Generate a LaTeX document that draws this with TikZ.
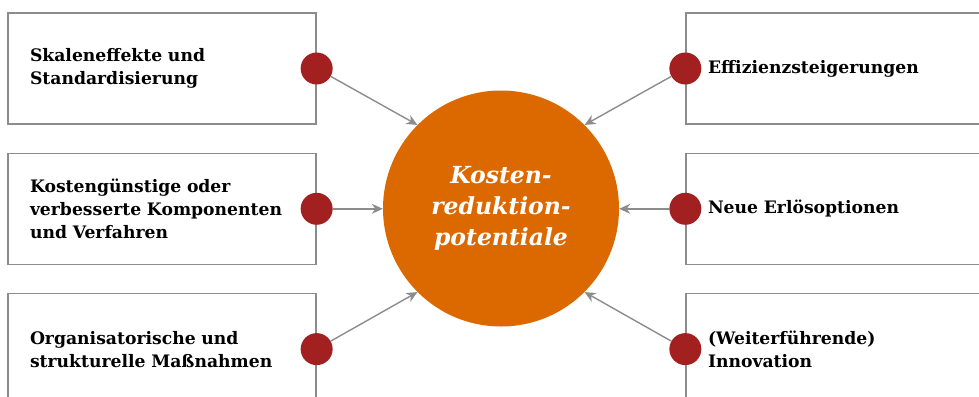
\documentclass[tikz,border=0pt]{standalone}
\usepackage{fontspec}
\setmainfont{DejaVu Serif}
\usetikzlibrary{positioning, arrows.meta}
\definecolor{accentorange}{HTML}{DC6900}
\definecolor{accentred}{HTML}{A32020}
\definecolor{framegray}{HTML}{8C8C8C}
\tikzset{
  >={Stealth[length=11pt,width=10pt]},
  node distance=28pt,
  field/.style={rectangle, draw=framegray, line width=1.3pt,
    minimum height=111pt, text width=264pt, inner xsep=22pt,
    align=left, font=\bfseries\fontsize{17.2}{23}\selectfont},
  dot/.style={circle, fill=accentred, minimum size=32pt, inner sep=0pt},
  link/.style={->, draw=framegray, line width=1.4pt},
  core/.style={circle, fill=accentorange, minimum size=236pt, inner sep=0pt,
    align=center, text=white,
    font=\bfseries\itshape\fontsize{23.5}{31}\selectfont},
}

\begin{document}
\begin{tikzpicture}[x=1pt, y=-1pt]
  \useasboundingbox (0,0) rectangle (979,396);
  \clip (0,0) rectangle (979,396);

  % left column
  \node[field] (skal) at (162,68.5) {Skaleneffekte und\\Standardisierung};
  \node[field,below=of skal] (komp) {Kostengünstige oder\\verbesserte Komponenten\\und Verfahren};
  \node[field,below=of komp] (orga) {Organisatorische und\\strukturelle Maßnahmen};

  % right column
  \node[field] (effi) at (840,68.5) {Effizienzsteigerungen};
  \node[field,below=of effi] (erloes) {Neue Erlösoptionen};
  \node[field,below=of erloes] (innov) {(Weiterführende)\\Innovation};

  \node[core] (potential) at (501,208.5) {Kosten-\\reduktion-\\potentiale};

  % dots on the box edges
  \node[dot] (d1) at (skal.east) {};
  \node[dot] (d2) at (komp.east) {};
  \node[dot] (d3) at (orga.east) {};
  \node[dot] (d4) at (effi.west) {};
  \node[dot] (d5) at (erloes.west) {};
  \node[dot] (d6) at (innov.west) {};

  \draw[link] (d1) -- (potential.135);
  \draw[link] (d2) -- (d2 -| potential.west);
  \draw[link] (d3) -- (potential.225);
  \draw[link] (d4) -- (potential.45);
  \draw[link] (d5) -- (d5 -| potential.east);
  \draw[link] (d6) -- (potential.315);
\end{tikzpicture}
\end{document}
